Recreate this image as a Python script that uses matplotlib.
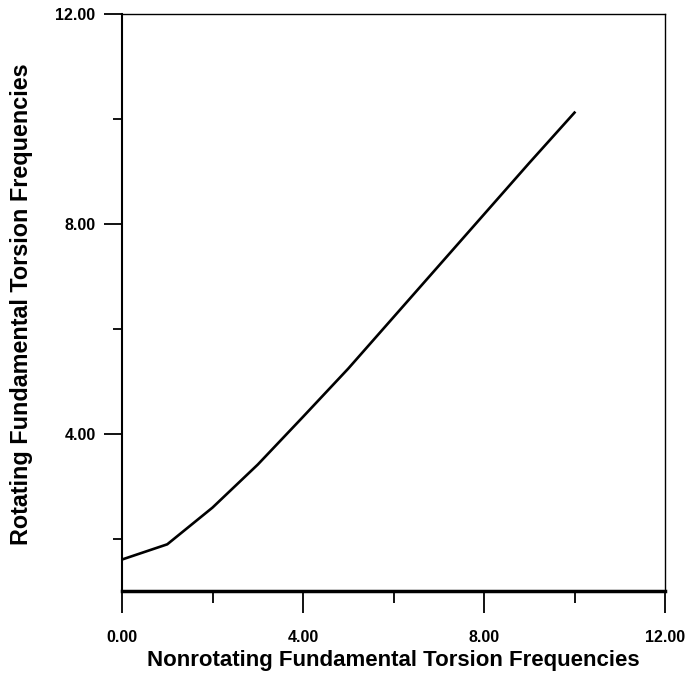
import matplotlib
matplotlib.use("Agg")
import matplotlib.pyplot as plt
from matplotlib.ticker import MultipleLocator, FormatStrFormatter

x_nonrot = [0, 1, 2, 3, 4, 5, 6, 7, 8, 9, 10]
y_rot = [1.60, 1.89, 2.59, 3.41, 4.32, 5.24, 6.22, 7.20, 8.18, 9.16, 10.12]

x_label = "Nonrotating Fundamental Torsion Frequencies"
y_label = "Rotating Fundamental Torsion Frequencies"

plt.rcParams['font.family'] = ['Liberation Sans', 'DejaVu Sans']
plt.rcParams['font.weight'] = 'bold'

fig = plt.figure(figsize=(6.85, 6.73), dpi=100)
ax = fig.add_axes([122/685, 1-591/673, (665-122)/685, (591-14)/673])

ax.plot(x_nonrot, y_rot, color='black', lw=1.9, solid_joinstyle='miter')

ax.set_xlim(0, 12)
ax.set_ylim(1.0, 12)
ax.xaxis.set_major_locator(MultipleLocator(4))
ax.xaxis.set_minor_locator(MultipleLocator(2))
ax.yaxis.set_major_locator(MultipleLocator(4))
ax.yaxis.set_minor_locator(MultipleLocator(2))
ax.xaxis.set_major_formatter(FormatStrFormatter('%.2f'))
ax.yaxis.set_major_formatter(FormatStrFormatter('%.2f'))

ax.tick_params(axis='x', which='major', direction='out', length=16, width=1.3,
               labelsize=11.5, pad=12)
ax.tick_params(axis='x', which='minor', direction='out', length=8.5, width=1.3)
ax.tick_params(axis='y', which='major', direction='out', length=13, width=1.3,
               labelsize=11.5, pad=6)
ax.tick_params(axis='y', which='minor', direction='out', length=6.5, width=1.3)
for lab in ax.get_xticklabels() + ax.get_yticklabels():
    lab.set_fontweight('bold')

ax.spines['bottom'].set_linewidth(2.5)
ax.spines['left'].set_linewidth(1.5)
ax.spines['top'].set_linewidth(1.0)
ax.spines['right'].set_linewidth(1.0)

ax.set_xlabel(x_label, fontsize=16, fontweight='bold')
ax.set_ylabel(y_label, fontsize=16.8, fontweight='bold')
ax.xaxis.set_label_coords(0.5, -0.102)
ax.yaxis.set_label_coords(-0.164, 0.497)

fig.savefig("out.png", dpi=100)
